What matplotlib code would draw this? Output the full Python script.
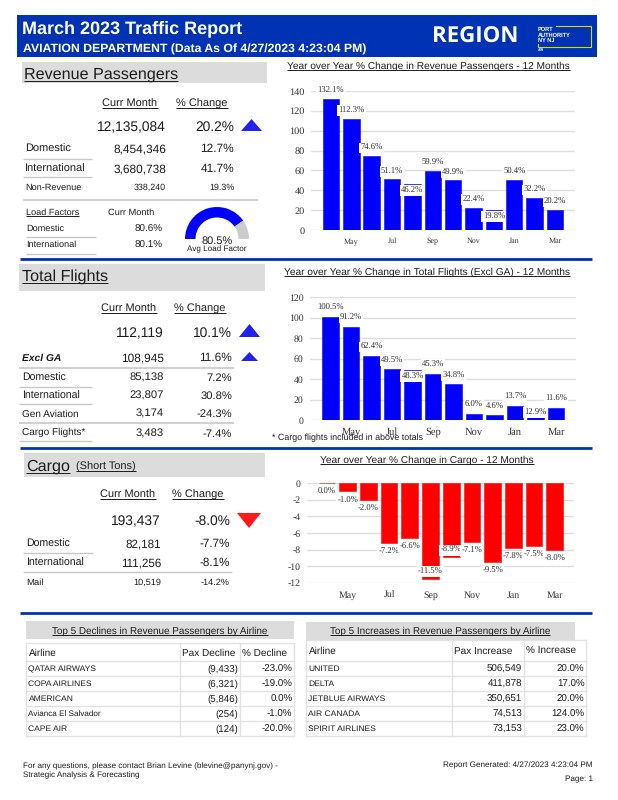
"""March 2023 traffic report page, drawn in page pixel coordinates."""
import matplotlib
matplotlib.use("Agg")
import matplotlib.pyplot as plt
from matplotlib.patches import Rectangle, Polygon, Wedge

MONTHS = ["Apr", "May", "Jun", "Jul", "Aug", "Sep", "Oct", "Nov", "Dec", "Jan", "Feb", "Mar"]
PAX_CHANGE = [132.1, 112.3, 74.6, 51.1, 46.2, 59.9, 49.9, 22.4, 19.8, 50.4, 32.2, 20.2]
FLIGHT_CHANGE = [100.5, 91.2, 62.4, 49.5, 48.3, 45.3, 34.8, 6.0, 4.6, 13.7, 12.9, 11.6]
CARGO_CHANGE = [0.0, -1.0, -2.0, -7.2, -6.6, -11.5, -8.9, -7.1, -9.5, -7.8, -7.5, -8.0]

AVG_LOAD_FACTOR = 80.5

DECLINE_HEAD = ["Airline", "Pax Decline", "% Decline"]
DECLINE_AIRLINES = ["QATAR AIRWAYS", "COPA AIRLINES", "AMERICAN", "Avianca El Salvador", "CAPE AIR"]
DECLINE_PAX = ["(9,433)", "(6,321)", "(5,846)", "(254)", "(124)"]
DECLINE_PCT = ["-23.0%", "-19.0%", "0.0%", "-1.0%", "-20.0%"]

INCREASE_HEAD = ["Airline", "Pax Increase", "% Increase"]
INCREASE_AIRLINES = ["UNITED", "DELTA", "JETBLUE AIRWAYS", "AIR CANADA", "SPIRIT AIRLINES"]
INCREASE_PAX = ["506,549", "411,878", "350,651", "74,513", "73,153"]
INCREASE_PCT = ["20.0%", "17.0%", "20.0%", "124.0%", "23.0%"]

SANS = "Liberation Sans"
SERIF = "Liberation Serif"
INK = "#1c1c1c"
NAVY = "#0033b4"
GREY_BOX = "#dcdcdc"
RULE = "#c8c8c8"
W, H = 618, 800

plt.rcParams["font.family"] = SANS
plt.rcParams["text.hinting"] = "no_hinting"
plt.rcParams["axes.unicode_minus"] = False

fig = plt.figure(figsize=(W / 100, H / 100), dpi=100)
page = fig.add_axes([0, 0, 1, 1])
page.set_xlim(0, W)
page.set_ylim(H, 0)
page.axis("off")
rend = fig.canvas.get_renderer()


def txt(x, y, s, size, ha="left", under=False, **kw):
    # y = milieu des capitales, on passe par la ligne de base pour aligner les rangees
    kw.setdefault("color", INK)
    base = y + size * 0.5
    t = page.text(x, base, s, fontsize=size, ha=ha, va="baseline", **kw)
    if under:
        bb = t.get_window_extent(rend)
        page.plot([bb.x0, bb.x1], [base + size * 0.17] * 2, color=kw["color"], lw=0.7,
                  solid_capstyle="butt")
    return t


def rule(x0, x1, y, color=RULE, lw=1.0):
    page.plot([x0, x1], [y, y], color=color, lw=lw, solid_capstyle="butt")


def box(x0, y0, x1, y1, **kw):
    page.add_patch(Rectangle((x0, y0), x1 - x0, y1 - y0, lw=0, **kw))


def triangle(x0, x1, y0, y1, color):
    # la pointe est du cote y0
    page.add_patch(Polygon([((x0 + x1) / 2, y0), (x0, y1), (x1, y1)], color=color, lw=0))


def row(y, label, value, pct, xv, xp, size, lab_x=25, lab_size=None, **kw):
    txt(lab_x, y, label, lab_size or size, **kw)
    txt(xv, y, value, size, ha="right")
    txt(xp, y, pct, size, ha="right")


def bar_chart(x0, x1, y0, y1, values, color, ylim, yticks, first_c, step, xsize, ysize, xpad,
              inside=(), lab_gap=8.0, lab_in=6.5):
    ax = fig.add_axes([x0 / W, 1 - y1 / H, (x1 - x0) / W, (y1 - y0) / H])
    ax.set_xlim((x0 - first_c) / step, (x1 - first_c) / step)
    ax.set_ylim(*ylim)
    ax.patch.set_alpha(0)
    for s in ax.spines.values():
        s.set_visible(False)
    ax.set_yticks(yticks)
    ax.grid(axis="y", color="#dedede", lw=1.0, zorder=0)
    ax.set_axisbelow(True)
    xs = list(range(len(values)))
    ax.bar(xs, values, width=0.81, color=color, edgecolor=color, lw=0.4, zorder=2)
    for i, v in enumerate(values):
        sign = 1 if v > 0 else -1          # au-dessus des barres positives
        if i in inside:
            sign = -sign
        gap = lab_in if i in inside else lab_gap
        ax.annotate(f"{v:.1f}%", (i, v), xytext=(0, sign * gap * 0.72), textcoords="offset points",
                    ha="center", va="center", fontsize=6.2, family=SERIF, color="#333333",
                    zorder=4, annotation_clip=False,
                    bbox=dict(boxstyle="square,pad=0.15", fc="white", ec="none"))
    ax.set_xticks(xs[1::2], MONTHS[1::2])
    ax.tick_params(length=0, colors="#333333")
    ax.tick_params(axis="x", labelsize=xsize, pad=xpad)
    ax.tick_params(axis="y", pad=4.5, labelsize=ysize)
    for lab in ax.get_xticklabels():
        lab.set_family(SERIF)
        lab.set_verticalalignment("baseline")
    for lab in ax.get_yticklabels():
        lab.set_family(SERIF)
    return ax


def airline_table(xs, ys, head, airlines, pax, pct, head_size):
    for x in xs:
        page.plot([x, x], [ys[0], ys[-1]], color="#e2e2e2", lw=1.0)
    for y in ys:
        page.plot([xs[0], xs[-1]], [y, y], color="#e2e2e2", lw=1.0)
    ym = (ys[0] + ys[1]) / 2
    txt(xs[0] + 2.5, ym, head[0], head_size)
    txt(xs[1] + 2.5, ym, head[1], head_size)
    txt(xs[2] + 2, ym, head[2], head_size)
    for i in range(len(airlines)):
        ym = (ys[i + 1] + ys[i + 2]) / 2
        size = 5.9 if airlines[i][1].islower() else 6.1
        txt(xs[0] + 2.5, ym - 0.5, airlines[i], size)
        txt(xs[2] - 2, ym, pax[i], 7, ha="right")
        txt(xs[3] - 1.5, ym, pct[i], 7, ha="right")


# ── Bandeau ──────────────────────────────────────────────────────────────────
box(17, 15, 597, 57, color=NAVY)
txt(22, 27, "March 2023 Traffic Report", 13, color="white", weight="bold")
txt(23, 48, "AVIATION DEPARTMENT (Data As Of 4/27/2023 4:23:04 PM)", 8.8, color="white", weight="bold")
txt(432, 35, "REGION", 16, color="white", weight="bold", family="Open Sans")
txt(538, 29, "PORT", 4.1, color="white", weight="bold")
txt(538, 34.5, "AUTHORITY", 4.1, color="white", weight="bold")
txt(538, 40, "NY NJ", 4.1, color="white", weight="bold")
txt(538, 49.5, "AIR", 2.6, color="white", weight="bold")
page.plot([556, 591, 591, 538, 538], [26, 26, 47, 47, 44], color="#e6d200", lw=0.8)

# ── Revenue Passengers ───────────────────────────────────────────────────────
box(22, 62, 267, 83, color=GREY_BOX)
txt(24, 73, "Revenue Passengers", 11.6, under=True)
txt(130, 103, "Curr Month", 7.9, ha="center", under=True)
txt(202, 103, "% Change", 7.9, ha="center", under=True)
txt(166, 126, "12,135,084", 9.9, ha="right")
txt(234, 126, "20.2%", 9.9, ha="right")
triangle(241, 262, 119, 131, "#2222ee")
row(148, "Domestic", "8,454,346", "12.7%", 166, 234, 8.6, lab_size=7.9)
rule(23, 92, 159)
row(168, "International", "3,680,738", "41.7%", 166, 234, 8.6, lab_size=7.9)
rule(23, 92, 177)
row(187, "Non-Revenue", "338,240", "19.3%", 166, 234, 6.4, lab_size=6.6)
rule(23, 258, 200, lw=1.2)
txt(26, 212, "Load Factors", 6.6, under=True)
txt(131, 212, "Curr Month", 6.7, ha="center")
row(228, "Domestic", "80.6%", "", 163, 234, 7.1, lab_x=26, lab_size=6.6)
rule(26, 96, 237)
row(244, "International", "80.1%", "", 163, 234, 7.1, lab_x=26, lab_size=6.6)
rule(26, 96, 254)

split = 180 * (1 - AVG_LOAD_FACTOR / 100)
page.add_patch(Wedge((217, 239), 32, 180, 180 + 180 * AVG_LOAD_FACTOR / 100, width=10.5, color="#0000ff", lw=0))
page.add_patch(Wedge((217, 239), 32, 360 - split, 360, width=10.5, color="#cccccc", lw=0))
txt(217, 240, f"{AVG_LOAD_FACTOR}%", 7.9, ha="center")
txt(217, 248, "Avg Load Factor", 5.9, ha="center")

rule(20, 592, 259, color=NAVY, lw=2.0)
txt(287, 65, "Year over Year % Change in Revenue Passengers - 12 Months", 7.3, under=True)
bar_chart(311, 575, 91, 230, PAX_CHANGE, "#0000ff", (0, 140), range(0, 141, 20),
          331, 20.36, 5.8, 7.4, 9.4, inside=(4, 8))

# ── Total Flights ────────────────────────────────────────────────────────────
box(19, 264, 265, 291, color=GREY_BOX)
txt(22, 275, "Total Flights", 11.6, under=True)
txt(129, 308, "Curr Month", 7.9, ha="center", under=True)
txt(200, 308, "% Change", 7.9, ha="center", under=True)
txt(164, 332, "112,119", 9.9, ha="right")
txt(232, 332, "10.1%", 9.9, ha="right")
triangle(239, 260, 324, 337, "#2222ee")
row(357, "Excl GA", "108,945", "11.6%", 164, 232, 8.6, lab_x=22, lab_size=7.4,
    weight="bold", style="italic")
triangle(241, 258, 352, 361, "#2222ee")
rule(19, 234, 368, lw=1.2)
row(377, "Domestic", "85,138", "7.2%", 164, 232, 8.1, lab_x=22, lab_size=7.6)
rule(19, 92, 387)
row(395, "International", "23,807", "30.8%", 164, 232, 8.1, lab_x=22, lab_size=7.6)
rule(19, 92, 404)
row(413, "Gen Aviation", "3,174", "-24.3%", 164, 232, 8.1, lab_x=22, lab_size=7.2)
rule(19, 234, 423, lw=1.2)
txt(22, 431, "Cargo Flights*", 7.2)
txt(164, 433, "3,483", 8.1, ha="right")
txt(232, 433, "-7.4%", 8.1, ha="right")
rule(19, 92, 441)

rule(20, 592, 448, color=NAVY, lw=2.0)
txt(284, 271, "Year over Year % Change in Total Flights (Excl GA) - 12 Months", 7.3, under=True)
bar_chart(310, 576, 297, 420, FLIGHT_CHANGE, "#0000ff", (0, 120), range(0, 121, 20),
          330.5, 20.5, 7.6, 7.0, 10.4, inside=(4, 10), lab_gap=9.0, lab_in=6)
txt(272, 437, "* Cargo flights included in above totals", 6.4, zorder=6)

# ── Cargo ────────────────────────────────────────────────────────────────────
box(24, 453, 265, 477, color=GREY_BOX)
txt(26, 465, "Cargo", 11.6, under=True)
txt(76, 466, "(Short Tons)", 7.9, under=True)
txt(128, 494, "Curr Month", 7.9, ha="center", under=True)
txt(198, 494, "% Change", 7.9, ha="center", under=True)
txt(161, 520, "193,437", 9.9, ha="right")
txt(230, 520, "-8.0%", 9.9, ha="right")
triangle(237, 261, 528, 513, "#ff1a1a")
row(543, "Domestic", "82,181", "-7.7%", 161, 230, 8.4, lab_x=26, lab_size=7.6)
rule(23, 93, 553)
row(562, "International", "111,256", "-8.1%", 161, 230, 8.4, lab_x=26, lab_size=7.6)
rule(23, 232, 572)
row(582, "Mail", "10,519", "-14.2%", 161, 230, 6.6, lab_x=26, lab_size=6.8)

rule(20, 592, 613, color=NAVY, lw=2.0)
txt(320, 459, "Year over Year % Change in Cargo - 12 Months", 7.3, under=True)
bar_chart(307, 574, 483, 583, CARGO_CHANGE, "#ff0000", (-12, 0), range(-12, 1, 2),
          327, 20.7, 7.1, 7.0, 10.8, inside=(5, 6), lab_gap=9, lab_in=7)

# ── Tables ───────────────────────────────────────────────────────────────────
box(26, 621, 294, 639, color=GREY_BOX)
txt(160, 630, "Top 5 Declines in Revenue Passengers by Airline", 7.1, ha="center", under=True)
box(306, 622, 575, 640, color=GREY_BOX)
txt(440, 630, "Top 5 Increases in Revenue Passengers by Airline", 7.1, ha="center", under=True)
airline_table([26, 180, 240, 294], [643, 661, 676, 691, 706, 721, 736],
              DECLINE_HEAD, DECLINE_AIRLINES, DECLINE_PAX, DECLINE_PCT, 7.2)
airline_table([306, 452, 524, 586], [640, 661, 676, 691, 706, 721, 736],
              INCREASE_HEAD, INCREASE_AIRLINES, INCREASE_PAX, INCREASE_PCT, 7.2)

# ── Pied de page ─────────────────────────────────────────────────────────────
txt(23, 765, "For any questions, please contact Brian Levine (blevine@panynj.gov) -", 5.9)
txt(23, 774, "Strategic Analysis & Forecasting", 5.9)
txt(593, 764, "Report Generated: 4/27/2023 4:23:04 PM", 5.9, ha="right")
txt(593, 778, "Page: 1", 5.9, ha="right")

fig.savefig("out.png", dpi=100)
plt.close(fig)
